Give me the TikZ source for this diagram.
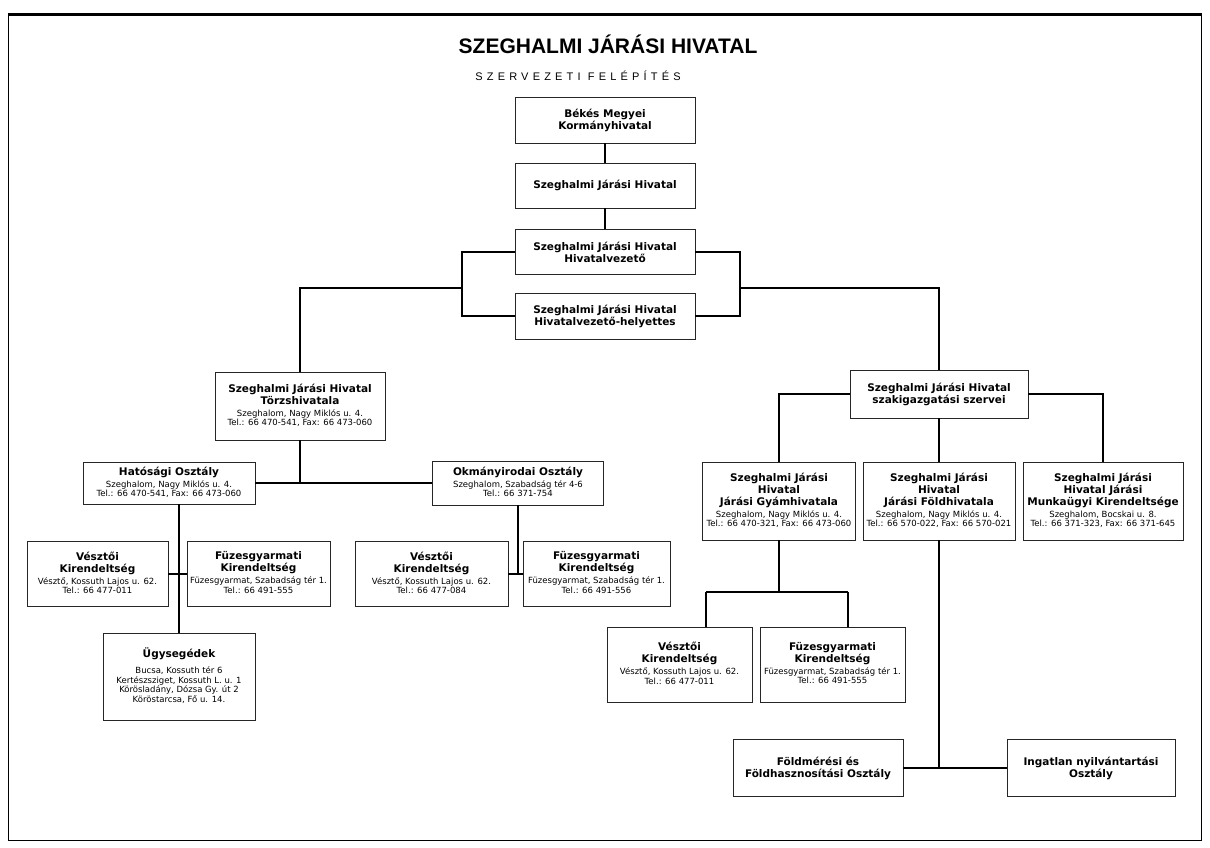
\documentclass[tikz,border=0pt]{standalone}
\usepackage{fontspec}
\setmainfont{DejaVu Sans}
\newfontfamily\titlefont{Liberation Sans}
\usepackage{tikz}
\newcommand{\addr}[1]{{\fontsize{8.5}{9.5}\selectfont\mdseries\begin{tabular}[t]{@{}c@{}}#1\end{tabular}}}

\begin{document}
\begin{tikzpicture}[x=1pt, y=-1pt,
    unit/.style={draw=black!85, line width=0.6pt, fill=white, align=center,
        font=\fontsize{10.5}{12}\selectfont\bfseries, inner sep=1pt},
    wh/.style 2 args={minimum width=#1pt, minimum height=#2pt},
    link/.style={line width=1.6pt}]
    %% Frame
    \useasboundingbox (0,0) rectangle (1210,848);
    \draw[line width=0.8pt] (8,13) rectangle (1201,840);
    \draw[line width=1.5pt] (8,15) -- (1201,15);
    %% Title
    \node (title) at (608,44) {\titlefont\fontsize{21}{24}\selectfont\bfseries SZEGHALMI JÁRÁSI HIVATAL};
    \node (subtitle) at (578,76) {\titlefont\fontsize{11}{13}\selectfont\addfontfeatures{LetterSpace=38}SZERVEZETI FELÉPÍTÉS};

    %% Top of the chart
    \node[unit, wh={180}{46}] (bekes) at (605,120) {Békés Megyei\\Kormányhivatal};
    \node[unit, wh={180}{45}] (jaras) at (605,185.5) {Szeghalmi Járási Hivatal};
    \node[unit, wh={180}{45}] (vezeto) at (605,252) {Szeghalmi Járási Hivatal\\Hivatalvezető};
    \node[unit, wh={180}{46}] (helyettes) at (605,316) {Szeghalmi Járási Hivatal\\Hivatalvezető-helyettes};
    \coordinate (bl) at (462,288);
    \coordinate (br) at (740,288);

    %% Left branch
    \node[unit, wh={170}{68}] (torzs) at (300,406) {Szeghalmi Járási Hivatal\\Törzshivatala\\
        \addr{Szeghalom, Nagy Miklós u. 4.\\Tel.: 66 470-541, Fax: 66 473-060}};
    \node[unit, wh={172}{42}] (hatosagi) at (169,483) {Hatósági Osztály\\
        \addr{Szeghalom, Nagy Miklós u. 4.\\Tel.: 66 470-541, Fax: 66 473-060}};
    \node[unit, wh={171}{44}] (okmany) at (518,483) {Okmányirodai Osztály\\
        \addr{Szeghalom, Szabadság tér 4-6\\Tel.: 66 371-754}};
    \node[unit, wh={141}{65}] (vesztoA) at (97.5,574) {Vésztői\\Kirendeltség\\
        \addr{Vésztő, Kossuth Lajos u. 62.\\Tel.: 66 477-011}};
    \node[unit, wh={143}{65}] (fuzesA) at (258.5,574) {Füzesgyarmati\\Kirendeltség\\
        \addr{Füzesgyarmat, Szabadság tér 1.\\Tel.: 66 491-555}};
    \node[unit, wh={153}{65}] (vesztoB) at (431.5,574) {Vésztői\\Kirendeltség\\
        \addr{Vésztő, Kossuth Lajos u. 62.\\Tel.: 66 477-084}};
    \node[unit, wh={147}{65}] (fuzesB) at (596.5,574) {Füzesgyarmati\\Kirendeltség\\
        \addr{Füzesgyarmat, Szabadság tér 1.\\Tel.: 66 491-556}};
    \node[unit, wh={152}{87}] (ugyseg) at (179,676.5) {Ügysegédek\\[4pt]
        \addr{Bucsa, Kossuth tér 6\\Kertészsziget, Kossuth L. u. 1\\Körösladány, Dózsa Gy. út 2\\Köröstarcsa, Fő u. 14.}};

    %% Right branch
    \node[unit, wh={178}{48}] (szakig) at (939,394) {Szeghalmi Járási Hivatal\\szakigazgatási szervei};
    \node[unit, wh={153}{78}] (gyam) at (779,501) {Szeghalmi Járási\\Hivatal\\Járási Gyámhivatala\\
        \addr{Szeghalom, Nagy Miklós u. 4.\\Tel.: 66 470-321, Fax: 66 473-060}};
    \node[unit, wh={152}{78}] (fold) at (939,501) {Szeghalmi Járási\\Hivatal\\Járási Földhivatala\\
        \addr{Szeghalom, Nagy Miklós u. 4.\\Tel.: 66 570-022, Fax: 66 570-021}};
    \node[unit, wh={160}{78}] (munka) at (1103,501) {Szeghalmi Járási\\Hivatal Járási\\Munkaügyi Kirendeltsége\\
        \addr{Szeghalom, Bocskai u. 8.\\Tel.: 66 371-323, Fax: 66 371-645}};
    \node[unit, wh={145}{75}] (vesztoC) at (679.5,664.5) {Vésztői\\Kirendeltség\\
        \addr{Vésztő, Kossuth Lajos u. 62.\\Tel.: 66 477-011}};
    \node[unit, wh={145}{75}] (fuzesC) at (832.5,664.5) {Füzesgyarmati\\Kirendeltség\\
        \addr{Füzesgyarmat, Szabadság tér 1.\\Tel.: 66 491-555}};
    \node[unit, wh={170}{57}] (foldmer) at (818,768) {Földmérési és\\Földhasznosítási Osztály};
    \node[unit, wh={168}{57}] (ingatlan) at (1091,768) {Ingatlan nyilvántartási\\Osztály};
    \coordinate (gl) at (706,592);
    \coordinate (gr) at (848,592);

    %% Connectors
    \draw[link]
    (bekes) -- (jaras)
    (jaras) -- (vezeto)
    (vezeto.west) -| (bl) |- (helyettes.west)
    (vezeto.east) -| (br) |- (helyettes.east)
    (bl) -| (torzs.north)
    (br) -| (szakig.north)
    (torzs.south) -- (torzs.south |- hatosagi.east)
    (hatosagi.east) -- (okmany.west)
    (ugyseg.north) -- (ugyseg.north |- hatosagi.south)
    (vesztoA.east) -- (fuzesA.west)
    (okmany.south) -- (okmany.south |- vesztoB.east)
    (vesztoB.east) -- (fuzesB.west)
    (szakig.west) -| (gyam.north)
    (szakig.east) -| (munka.north)
    (szakig.south) -- (fold.north)
    (gyam.south) -- (gyam.south |- gl)
    (gl) -- (gr)
    (gl) -- (gl |- vesztoC.north)
    (gr) -- (gr |- fuzesC.north)
    (fold.south) -- (fold.south |- foldmer.east)
    (foldmer.east) -- (ingatlan.west)
    ;
\end{tikzpicture}
\end{document}
